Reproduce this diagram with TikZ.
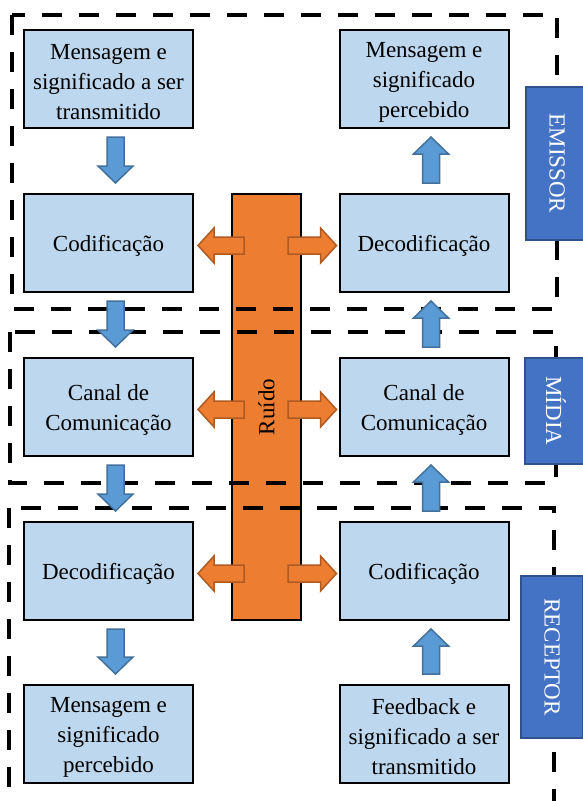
\documentclass[tikz,border=0pt]{standalone}
\usepackage{fontspec}
\setmainfont{Liberation Serif}
\usetikzlibrary{calc}
\definecolor{boxfill}{HTML}{BDD7EE}
\definecolor{bluefill}{HTML}{5B9BD5}
\definecolor{bluedraw}{HTML}{41719C}
\definecolor{orfill}{HTML}{ED7D31}
\definecolor{ordraw}{HTML}{AE5A21}
\definecolor{labfill}{HTML}{4472C4}
\definecolor{labdraw}{HTML}{2F528F}
\newcommand\tstrut{\rule{0pt}{22pt}}
% block arrows between named nodes
\newcommand\blueDown[2]{%
  \draw[bluearr] let \p1=(#1.south), \p2=(#2.north) in
    (\x1-1.5pt,\y1-8pt) -- (\x1+15.5pt,\y1-8pt) -- (\x1+15.5pt,\y2+27pt) -- (\x1+24.5pt,\y2+27pt)
    -- (\x1+7pt,\y2+10pt) -- (\x1-10.5pt,\y2+27pt) -- (\x1-1.5pt,\y2+27pt) -- cycle;}
\newcommand\blueUp[2]{%
  \draw[bluearr] let \p1=(#1.north), \p2=(#2.south) in
    (\x1-1.5pt,\y1+10pt) -- (\x1+15.5pt,\y1+10pt) -- (\x1+15.5pt,\y2-25pt) -- (\x1+24.5pt,\y2-25pt)
    -- (\x1+7pt,\y2-8pt) -- (\x1-10.5pt,\y2-25pt) -- (\x1-1.5pt,\y2-25pt) -- cycle;}
\newcommand\orLeft[2]{%
  \draw[orarr] let \p1=(#1.west), \p2=(#2.east) in
    (\x1+13pt,\y2+6pt) -- (\x2+20pt,\y2+6pt) -- (\x2+20pt,\y2+15pt) -- (\x2+4pt,\y2-2.5pt)
    -- (\x2+20pt,\y2-20pt) -- (\x2+20pt,\y2-11pt) -- (\x1+13pt,\y2-11pt) -- cycle;}
\newcommand\orRight[2]{%
  \draw[orarr] let \p1=(#1.east), \p2=(#2.west) in
    (\x1-14pt,\y2+6pt) -- (\x2-18pt,\y2+6pt) -- (\x2-18pt,\y2+15pt) -- (\x2-2pt,\y2-2.5pt)
    -- (\x2-18pt,\y2-20pt) -- (\x2-18pt,\y2-11pt) -- (\x1-14pt,\y2-11pt) -- cycle;}
\begin{document}
\begin{tikzpicture}[x=1pt,y=-1pt,
  box/.style={draw=black, line width=2pt, fill=boxfill, minimum width=169pt, minimum height=98pt,
    inner sep=0pt, align=center, font=\fontsize{23}{30}\selectfont},
  frame/.style={draw=black, line width=4pt, dash pattern=on 20pt off 17pt},
  lab/.style={draw=labdraw, line width=1.5pt, fill=labfill, text=white,
    font=\fontsize{23}{28}\selectfont, rotate=-90, inner sep=0pt, minimum height=62pt},
  bluearr/.style={draw=bluedraw, fill=bluefill, line width=1.5pt},
  orarr/.style={draw=ordraw, fill=orfill, line width=1.5pt}]
\useasboundingbox (0,0) rectangle (583,801);
\clip (0,0) rectangle (583,801);
\fill[white] (0,0) rectangle (583,801);

% noise bar
\node[draw=black, line width=2pt, fill=orfill, minimum width=69pt, minimum height=426pt, inner sep=0pt]
  (bar) at (266.5,407) {};

% dashed frames
\draw[frame] (12,15) rectangle (557,309);
\draw[frame] (10,332) rectangle (556,483);
\draw[frame] (9,508) rectangle (554,830);

\node[rotate=90, font=\fontsize{23}{28}\selectfont, inner sep=0pt] (ruido) at (bar.center) {Ruído};

% boxes
\node[box] (m1) at (108.5,79)  {\tstrut Mensagem e\\significado a ser\\transmitido};
\node[box] (c1) at (108.5,243) {\tstrut Codificação};
\node[box] (k1) at (108.5,407) {\tstrut Canal de\\Comunicação};
\node[box] (d1) at (108.5,571) {\tstrut Decodificação};
\node[box] (p1) at (108.5,734) {\tstrut Mensagem e\\significado\\percebido};

\node[box] (p2) at (424,79)  {\tstrut Mensagem e\\significado\\percebido};
\node[box] (d2) at (424,243) {\tstrut Decodificação};
\node[box] (k2) at (424,407) {\tstrut Canal de\\Comunicação};
\node[box] (c2) at (424,571) {\tstrut Codificação};
\node[box] (f2) at (424,734) {\tstrut Feedback e\\significado a ser\\transmitido};

% side labels
\node[lab, minimum width=153pt] (emissor) at (557,163.5) {EMISSOR};
\node[lab, minimum width=106pt] (midia) at (556,411) {MÍDIA};
\node[lab, minimum width=162pt] (receptor) at (552,657) {RECEPTOR};

% blue arrows
\blueDown{m1}{c1}
\blueDown{c1}{k1}
\blueDown{k1}{d1}
\blueDown{d1}{p1}
\blueUp{f2}{c2}
\blueUp{c2}{k2}
\blueUp{k2}{d2}
\blueUp{d2}{p2}

% orange arrows
\orLeft{bar}{c1}
\orLeft{bar}{k1}
\orLeft{bar}{d1}
\orRight{bar}{d2}
\orRight{bar}{k2}
\orRight{bar}{c2}
\end{tikzpicture}
\end{document}
